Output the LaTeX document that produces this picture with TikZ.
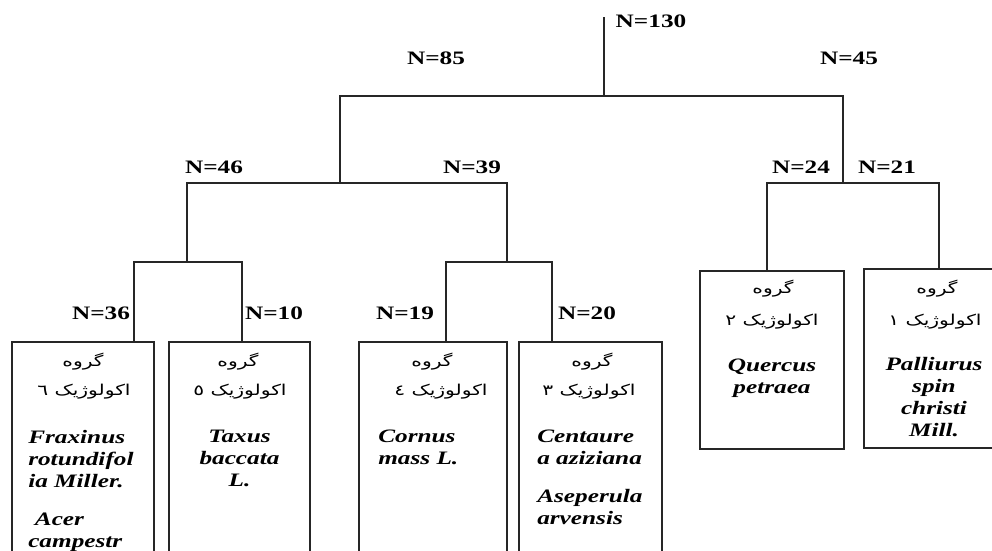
\documentclass[tikz,border=0pt]{standalone}
\usepackage{fontspec}
\setmainfont{Liberation Serif}
\newfontfamily\fa[Script=Arabic]{DejaVu Sans}
\TeXXeTstate=1
\begin{document}
\begin{tikzpicture}[x=1pt,y=-1pt,
  ln/.style={line width=1.3pt, draw=black!85},
  box/.style={draw=black!85, line width=1.3pt, anchor=north west, inner sep=0pt, outer sep=0pt},
  lab/.style={font=\bfseries\fontsize{19}{22}\selectfont, xscale=1.33, inner sep=0pt},
  fa/.style={font=\fa\fontsize{15}{17}\selectfont, xscale=1.35, inner sep=0pt},
  sp/.style={font=\bfseries\itshape\fontsize{19}{22}\selectfont, xscale=1.33, inner sep=0pt, anchor=north west, align=left},
  spc/.style={sp, anchor=north, align=center}]
\useasboundingbox (0,0) rectangle (992,550);
\clip (0,0) rectangle (992,550);
% boxes
\node[box, minimum width=142pt, minimum height=260pt] (b1) at (12,342) {};
\node[box, minimum width=141pt, minimum height=260pt] (b2) at (169,342) {};
\node[box, minimum width=148pt, minimum height=260pt] (b3) at (359,342) {};
\node[box, minimum width=143pt, minimum height=260pt] (b4) at (519,342) {};
\node[box, minimum width=144pt, minimum height=178pt] (b5) at (700,271) {};
\node[box, minimum width=140pt, minimum height=179pt] (b6) at (864,269) {};
% junctions
\coordinate (top) at (604,17);
\coordinate (j0) at (604,96);
\coordinate (jL) at (340,183);
\coordinate (jR) at (843,183);
\coordinate (jLL) at (187,262);
\coordinate (jLR) at (507,262);
\coordinate (k1) at (134,262);
\coordinate (k2) at (242,262);
\coordinate (k3) at (446,262);
\coordinate (k4) at (552,262);
\coordinate (k5) at (767,183);
\coordinate (k6) at (939,183);
\draw[ln] (top) -- (j0);
\draw[ln] (jL) |- (j0) -| (jR);
\draw[ln] (jLL) |- (jL) -| (jLR);
\draw[ln] (b1.north -| k1) |- (jLL) -| (b2.north -| k2);
\draw[ln] (b3.north -| k3) |- (jLR) -| (b4.north -| k4);
\draw[ln] (b5.north -| k5) |- (jR) -| (b6.north -| k6);
% N labels
\node[lab] (n130) at (651,21.5) {N=130};
\node[lab] (n85) at (436,58) {N=85};
\node[lab] (n45) at (849,58) {N=45};
\node[lab] (n46) at (214,167) {N=46};
\node[lab] (n39) at (472,167) {N=39};
\node[lab] (n24) at (801,167) {N=24};
\node[lab] (n21) at (887,167) {N=21};
\node[lab] (n36) at (101,313) {N=36};
\node[lab] (n10) at (274,313) {N=10};
\node[lab] (n19) at (405,313) {N=19};
\node[lab] (n20) at (587,313) {N=20};
% Persian lines
\node[fa] (g1) at (83,362) {\beginR گروه\endR};
\node[fa] (e1) at (84,392) {\beginR اکولوژیک ٦\endR};
\node[fa] (g2) at (238,362) {\beginR گروه\endR};
\node[fa] (e2) at (240,392) {\beginR اکولوژیک ٥\endR};
\node[fa] (g3) at (432,362) {\beginR گروه\endR};
\node[fa] (e3) at (441,392) {\beginR اکولوژیک ٤\endR};
\node[fa] (g4) at (592,362) {\beginR گروه\endR};
\node[fa] (e4) at (589,392) {\beginR اکولوژیک ٣\endR};
\node[fa] (g5) at (773,289) {\beginR گروه\endR};
\node[fa] (e5) at (772,322) {\beginR اکولوژیک ٢\endR};
\node[fa] (g6) at (937,289) {\beginR گروه\endR};
\node[fa] (e6) at (935,322) {\beginR اکولوژیک ١\endR};
% species
\node[sp] (s1) at (28,430) {Fraxinus\\rotundifol\\ia Miller.\\[16pt]\hspace*{5pt}Acer\\campestr};
\node[spc] (s2) at (239.5,430) {Taxus\\baccata\\L.};
\node[sp] (s3) at (378,430) {Cornus\\mass L.};
\node[sp] (s4) at (537,430) {Centaure\\a aziziana\\[16pt]Aseperula\\arvensis};
\node[spc] (s5) at (772,359) {Quercus\\petraea};
\node[spc] (s6) at (934,357) {Palliurus\\spin\\christi\\Mill.};
\end{tikzpicture}
\end{document}
